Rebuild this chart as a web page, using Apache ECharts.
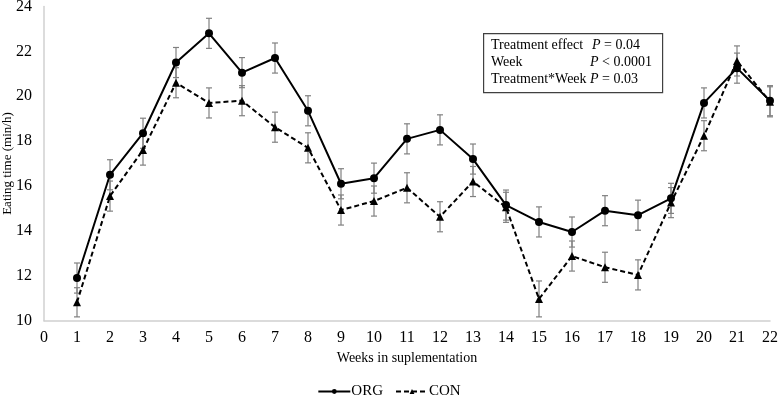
<!DOCTYPE html>
<html>
<head>
<meta charset="utf-8">
<script src="https://cdn.jsdelivr.net/npm/echarts@6/dist/echarts.min.js"></script>
<style>
  html, body { margin: 0; padding: 0; background: #fff; }
  #chart { width: 778px; height: 395px; }
</style>
</head>
<body>
<div id="chart"></div>
<script>
const weeks = [1, 2, 3, 4, 5, 6, 7, 8, 9, 10, 11, 12, 13, 14, 15, 16, 17, 18, 19, 20, 21, 22]
const orgValues = [11.9, 16.5, 18.35, 21.5, 22.8, 21.05, 21.7, 19.35, 16.1, 16.35, 18.1, 18.5, 17.2, 15.15, 14.4, 13.95, 14.9, 14.7, 15.45, 19.7, 21.25, 19.8]
const conValues = [10.82, 15.55, 17.6, 20.6, 19.7, 19.8, 18.62, 17.7, 14.93, 15.33, 15.92, 14.63, 16.2, 15.05, 10.97, 12.88, 12.38, 12.04, 15.26, 18.24, 21.57, 19.75]
const orgErr = [0.67, 0.67, 0.67, 0.67, 0.67, 0.67, 0.67, 0.67, 0.67, 0.67, 0.67, 0.67, 0.67, 0.67, 0.67, 0.67, 0.67, 0.67, 0.67, 0.67, 0.67, 0.67]
const conErr = [0.65, 0.67, 0.67, 0.67, 0.67, 0.67, 0.67, 0.67, 0.67, 0.67, 0.67, 0.67, 0.67, 0.67, 0.8, 0.67, 0.67, 0.67, 0.67, 0.67, 0.67, 0.67]
const statLabels = ['Treatment effect', 'Week', 'Treatment*Week']
const statValues = [' = 0.04', ' < 0.0001', ' = 0.03']

const font = 'Liberation Serif'

const toPairs = (vals) => weeks.map((w, i) => [w, vals[i]])
const toErr = (vals, errs) => weeks.map((w, i) => [w, vals[i] - errs[i], vals[i] + errs[i]])

const errorRender = function (params, api) {
	const x = api.value(0)
	const lo = api.coord([x, api.value(1)])
	const hi = api.coord([x, api.value(2)])
	const cap = 3
	const style = { stroke: '#808080', lineWidth: 1.2 }
	return {
		type: 'group',
		children: [
			{ type: 'line', shape: { x1: lo[0], y1: lo[1], x2: hi[0], y2: hi[1] }, style },
			{ type: 'line', shape: { x1: lo[0] - cap, y1: lo[1], x2: lo[0] + cap, y2: lo[1] }, style },
			{ type: 'line', shape: { x1: hi[0] - cap, y1: hi[1], x2: hi[0] + cap, y2: hi[1] }, style }
		]
	}
}

const myChart = echarts.init(document.getElementById('chart'))
const option = {
	animation: false,
	textStyle: { fontFamily: font, color: '#000' },
	grid: { left: 44, right: 8, top: 6.4, bottom: 74.3, containLabel: false, outerBoundsMode: 'none' },
	legend: {
		bottom: -9,
		left: 'center',
		itemWidth: 32,
		itemHeight: 6,
		itemGap: 12,
		textStyle: { fontFamily: font, fontSize: 15, color: '#000', padding: [0, 0, 0, -4] },
		data: ['ORG', 'CON']
	},
	xAxis: {
		type: 'value',
		min: 0,
		max: 22,
		interval: 1,
		name: 'Weeks in suplementation',
		nameLocation: 'middle',
		nameGap: 31,
		nameMoveOverlap: false,
		nameTextStyle: { fontFamily: font, fontSize: 14, color: '#000' },
		axisLine: { show: true, lineStyle: { color: '#d0d0d0', width: 1.5 } },
		axisTick: { show: false },
		splitLine: { show: false },
		axisLabel: { fontFamily: font, fontSize: 16, color: '#000', margin: 9 }
	},
	yAxis: {
		type: 'value',
		min: 10,
		max: 24,
		interval: 2,
		name: 'Eating time (min/h)',
		nameLocation: 'middle',
		nameGap: 30,
		nameMoveOverlap: false,
		nameTextStyle: { fontFamily: font, fontSize: 13, color: '#000' },
		axisLine: { show: true, lineStyle: { color: '#d0d0d0', width: 1.5 } },
		axisTick: { show: false },
		splitLine: { show: false },
		axisLabel: { fontFamily: font, fontSize: 16, color: '#000', margin: 12 }
	},
	series: [
		{
			name: 'ORG err',
			type: 'custom',
			renderItem: errorRender,
			data: toErr(orgValues, orgErr),
			encode: { x: 0, y: [1, 2] },
			z: 1,
			silent: true
		},
		{
			name: 'CON err',
			type: 'custom',
			renderItem: errorRender,
			data: toErr(conValues, conErr),
			encode: { x: 0, y: [1, 2] },
			z: 1,
			silent: true
		},
		{
			name: 'ORG',
			type: 'line',
			data: toPairs(orgValues),
			symbol: 'circle',
			symbolSize: 8,
			lineStyle: { color: '#000', width: 2, type: 'solid' },
			itemStyle: { color: '#000' },
			z: 3
		},
		{
			name: 'CON',
			type: 'line',
			data: toPairs(conValues),
			symbol: 'triangle',
			symbolSize: 8,
			lineStyle: { color: '#000', width: 2, type: [5, 3] },
			itemStyle: { color: '#000' },
			z: 3
		}
	],
	graphic: [
		{
			type: 'rect',
			left: 483,
			top: 33,
			shape: { width: 179, height: 59 },
			style: { fill: '#fff', stroke: '#404040', lineWidth: 1.2 },
			z: 10
		},
		...statLabels.map((s, i) => ({
			type: 'text',
			left: 491,
			top: 38 + i * 17,
			style: { text: s, font: '14px "Liberation Serif"', fill: '#000' },
			z: 11
		})),
		...statValues.map((s, i) => ({
			type: 'text',
			left: [592, 590, 590][i],
			top: 38 + i * 17,
			style: {
				text: '{p|P}' + s,
				font: '14px "Liberation Serif"',
				fill: '#000',
				rich: { p: { fontStyle: 'italic', fontFamily: font, fontSize: 14 } }
			},
			z: 11
		}))
	]
}
myChart.setOption(option)
</script>
</body>
</html>
